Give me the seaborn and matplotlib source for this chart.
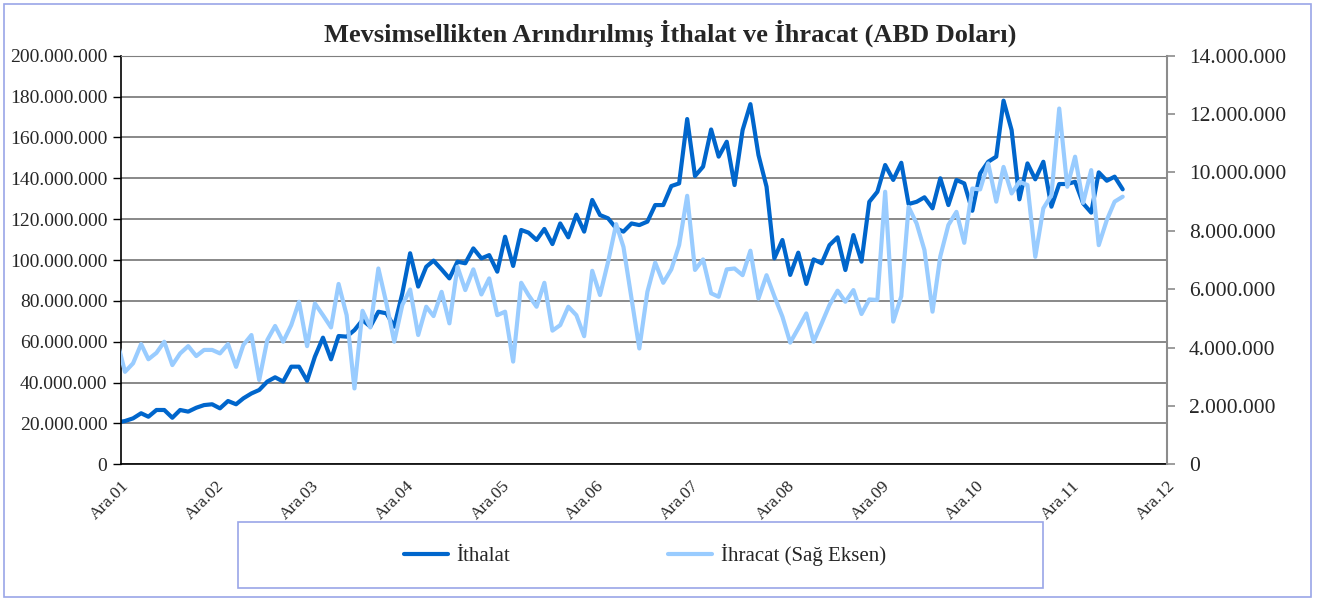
import matplotlib
matplotlib.use('Agg')
import matplotlib.pyplot as plt
from matplotlib.patches import Rectangle
from matplotlib.ticker import FuncFormatter, MultipleLocator
import seaborn as sns
import pandas as pd

# aylik veri, Kas.01 - Haz.12 (ilk nokta eksenin solunda kirpiliyor)
months = pd.date_range('2001-11-01', '2012-06-01', freq='MS') + pd.Timedelta(days=14)

# Ithalat, milyon USD (sol eksen)
ithalat_m = [20.5,
    21.2, 22.5, 25.0, 23.3, 26.6, 26.6, 22.8, 26.6, 25.8, 27.7,
    29.0, 29.4, 27.4, 31.0, 29.4, 32.3, 34.7, 36.4, 40.5, 42.6,
    40.5, 47.8, 47.8, 40.9, 52.7, 62.0, 51.4, 62.8, 62.5, 65.7,
    70.6, 67.4, 74.7, 73.9, 67.4, 83.7, 103.3, 87.0, 96.7, 99.7,
    95.4, 91.0, 99.2, 98.4, 105.7, 100.8, 102.4, 94.3, 111.4, 97.1,
    114.7, 113.4, 109.8, 115.2, 107.8, 117.9, 111.1, 122.2, 113.9, 129.4,
    122.0, 120.4, 115.5, 113.9, 117.9, 117.1, 118.8, 126.9, 126.9, 136.2,
    137.5, 169.0, 141.1, 145.7, 163.9, 150.6, 157.9, 136.7, 163.6, 176.3,
    151.4, 135.9, 100.8, 109.8, 92.7, 103.6, 88.3, 100.3, 98.4, 107.3,
    111.1, 95.1, 112.2, 99.2, 128.5, 133.4, 146.5, 139.2, 147.6, 127.4,
    128.5, 130.7, 125.3, 140.0, 126.9, 139.2, 137.5, 124.1, 142.4, 148.1,
    150.6, 178.0, 163.6, 129.7, 147.3, 139.5, 148.1, 126.1, 137.2, 137.2,
    138.3, 127.7, 123.2, 142.9, 138.8, 140.8, 134.6]

# Ihracat, milyon USD (sag eksen)
ihracat_m = [4.21,
    3.17, 3.46, 4.12, 3.60, 3.82, 4.20, 3.40, 3.80, 4.05, 3.71,
    3.92, 3.92, 3.80, 4.12, 3.34, 4.09, 4.43, 2.89, 4.26, 4.74,
    4.20, 4.77, 5.57, 4.05, 5.51, 5.11, 4.69, 6.18, 5.11, 2.60,
    5.26, 4.69, 6.71, 5.51, 4.20, 5.46, 5.99, 4.43, 5.40, 5.08,
    5.91, 4.83, 6.77, 5.97, 6.68, 5.82, 6.37, 5.11, 5.23, 3.52,
    6.22, 5.80, 5.40, 6.22, 4.58, 4.77, 5.40, 5.11, 4.39, 6.63,
    5.80, 6.94, 8.23, 7.45, 5.68, 3.97, 5.91, 6.91, 6.22, 6.68,
    7.51, 9.20, 6.66, 7.02, 5.86, 5.74, 6.68, 6.71, 6.48, 7.32,
    5.68, 6.48, 5.76, 5.06, 4.17, 4.66, 5.17, 4.20, 4.83, 5.46,
    5.95, 5.57, 5.97, 5.15, 5.65, 5.63, 9.34, 4.89, 5.76, 8.82,
    8.25, 7.34, 5.23, 7.13, 8.20, 8.65, 7.59, 9.45, 9.42, 10.31,
    9.00, 10.19, 9.28, 9.68, 9.57, 7.11, 8.77, 9.22, 12.19, 9.51,
    10.54, 8.96, 10.08, 7.51, 8.37, 9.00, 9.17]

tick_dates = pd.date_range('2001-12-01', '2012-12-01', freq='12MS')
tick_labels = ['Ara.%02d' % (d.year % 100) for d in tick_dates]

df = pd.DataFrame({'tarih': months,
                   'ithalat': [v * 1e6 for v in ithalat_m],
                   'ihracat': [v * 1e6 for v in ihracat_m]})

sns.set_style('white')
plt.rcParams['font.family'] = ['Liberation Serif', 'DejaVu Serif']

dark = '#0066CC'
light = '#99CCFF'

fig = plt.figure(figsize=(13.19, 6.01), dpi=100)
ax = fig.add_axes([0.092, 0.2274, 0.7925, 0.6799])
ax2 = ax.twinx()

sns.lineplot(data=df, x='tarih', y='ithalat', ax=ax, color=dark, lw=3.0, label='İthalat')
sns.lineplot(data=df, x='tarih', y='ihracat', ax=ax2, color=light, lw=3.0, label='İhracat (Sağ Eksen)')

fmt = FuncFormatter(lambda v, p: '0' if v == 0 else f'{int(round(v)):,}'.replace(',', '.'))

ax.set_xlim(tick_dates[0], tick_dates[-1])
ax.set_ylim(0, 200e6)
ax2.set_ylim(0, 14e6)
ax.yaxis.set_major_locator(MultipleLocator(20e6))
ax2.yaxis.set_major_locator(MultipleLocator(2e6))
ax.yaxis.set_major_formatter(fmt)
ax2.yaxis.set_major_formatter(fmt)
ax.set_xticks(tick_dates)
ax.set_xticklabels(tick_labels, rotation=45, ha='right', va='top', rotation_mode='anchor')

ax.set_xlabel('')
ax.set_ylabel('')
ax2.set_ylabel('')

ax.yaxis.grid(True, color='#7f7f7f', lw=1.3)
ax.set_axisbelow(True)

for s in ['left', 'bottom']:
    ax.spines[s].set_color('black')
    ax.spines[s].set_linewidth(1.2)
ax.spines['top'].set_color('#7f7f7f')
ax.spines['right'].set_visible(False)
for s in ['left', 'bottom', 'top']:
    ax2.spines[s].set_visible(False)
ax2.spines['right'].set_color('#8c8c8c')
ax2.spines['right'].set_linewidth(1.5)

ax.tick_params(axis='y', direction='out', length=6, width=1, color='black', labelsize=14, pad=4)
ax.tick_params(axis='x', direction='out', length=6, width=1, color='black', labelsize=12.5, pad=4)
ax2.tick_params(axis='y', direction='out', length=6, width=1.2, color='#8c8c8c', labelsize=15.5, pad=10)

fig.text(0.508, 0.945, 'Mevsimsellikten Arındırılmış İthalat ve İhracat (ABD Doları)',
         ha='center', va='center', fontsize=19, fontweight='bold')

h1, l1 = ax.get_legend_handles_labels()
h2, l2 = ax2.get_legend_handles_labels()
ax.get_legend().remove()
ax2.get_legend().remove()

fig.patches.append(Rectangle((0.1804, 0.0216), 0.610, 0.1098, transform=fig.transFigure,
                             fill=False, edgecolor='#9aa6e8', lw=1.2))
fig.legend(h1 + h2, l1 + l2, loc='center', bbox_to_anchor=(0.489, 0.077), ncol=2,
           frameon=False, fontsize=15, handlelength=2.1, columnspacing=7.6, handletextpad=0.4)

fig.patches.append(Rectangle((0.003, 0.006), 0.991, 0.988, transform=fig.transFigure,
                             fill=False, edgecolor='#9aa6e8', lw=1.2))

plt.savefig('out.png', dpi=100)
